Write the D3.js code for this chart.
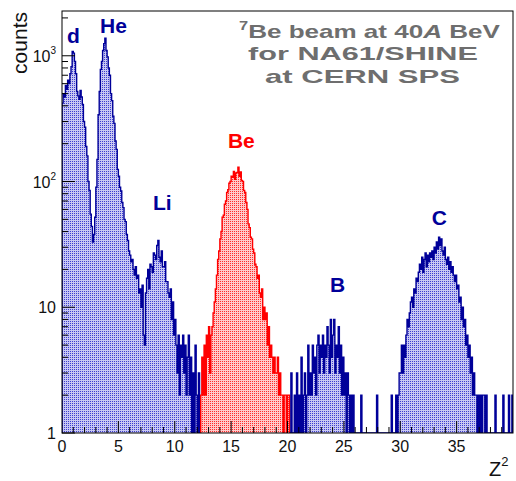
<!DOCTYPE html>
<html>
<head>
<meta charset="utf-8">
<script src="https://cdn.jsdelivr.net/npm/d3@7"></script>
<style>
  body { margin: 0; background: #fff; }
  text { font-family: "Liberation Sans", Arial, sans-serif; }
</style>
</head>
<body>
<script>
// histogram bins: width 0.1 in Z^2, each array starts at its own first bin
var binWidth = 0.1;

// Z^2 0.0 .. 12.2 (d, He, Li)
var startLow = 0.0;
var countsLow = [
  420, 500, 470, 580, 540, 640, 600, 720, 820, 1080,
  1050, 900, 720, 520, 480, 450, 530, 470, 410, 300,
  270, 190, 160, 100, 85, 55, 44, 33, 38, 52,
  90, 150, 340, 520, 780, 900, 1100, 1250, 1380, 1100,
  980, 800, 700, 500, 440, 330, 290, 210, 180, 125,
  110, 90, 84, 68, 62, 50, 48, 38, 34, 28,
  26, 23, 24, 20, 18, 21, 17, 18, 13, 14,
  10, 15, 6, 5, 13, 17, 20, 14, 22, 21,
  19, 27, 26, 24, 31, 34, 25, 23, 28, 21,
  21, 23, 16, 16, 13, 12, 14, 8, 11, 6,
  8, 5, 3, 6, 2, 5, 4, 6, 3, 5,
  2, 4, 6, 2, 4, 1, 3, 1, 5, 2,
  1, 3, 1
];

// Z^2 12.3 .. 20.1 (Be, drawn in red)
var startBe = 12.3;
var countsBe = [
  2, 4, 2, 5, 2, 6, 4,
  7, 3, 6, 7, 9, 11, 14, 18, 24, 28,
  35, 40, 52, 54, 66, 70, 82, 86, 97, 100,
  110, 108, 120, 104, 117, 118, 130, 110, 119, 102,
  100, 85, 82, 68, 60, 46, 43, 36, 35, 29,
  27, 22, 21, 17, 18, 13, 12, 14, 8, 10,
  8, 9, 5, 7, 4, 5, 4, 3, 4, 3,
  3, 4, 2, 3, 2, 2, 1, 2, 2, 1,
  2, 2
];

// Z^2 20.2 .. 39.9 (B, C)
var startHigh = 20.2;
var countsHigh = [
  1, 3, 0, 1, 2, 0, 3, 1,
  2, 1, 4, 1, 2, 3, 1, 2, 5, 2,
  3, 2, 5, 3, 4, 2, 5, 6, 3, 5,
  4, 6, 3, 5, 4, 7, 5, 3, 8, 4,
  6, 8, 3, 5, 4, 7, 3, 5, 2, 4,
  2, 3, 1, 3, 2, 1, 2, 1, 2, 0,
  1, 0, 1, 1, 0, 2, 0, 1, 0, 1,
  0, 0, 1, 0, 1, 0, 0, 1, 0, 2,
  0, 0, 1, 0, 1, 0, 0, 1, 0, 1,
  0, 1, 2, 1, 0, 1, 2, 1, 2, 3,
  3, 5, 3, 5, 4, 6, 8, 7, 9, 11,
  12, 10, 14, 13, 17, 16, 19, 22, 20, 25,
  19, 24, 27, 21, 26, 23, 27, 25, 28, 24,
  30, 27, 33, 29, 36, 31, 35, 28, 26, 30,
  24, 22, 25, 20, 23, 19, 21, 18, 16, 18,
  14, 15, 11, 12, 8, 10, 7, 8, 5, 6,
  4, 5, 3, 4, 2, 3, 2, 2, 1, 2,
  1, 2, 1, 2, 2, 1, 2, 0, 1, 1,
  0, 1, 1, 0, 2, 0, 1, 0, 1, 1,
  0, 2, 0, 1, 0, 1, 2, 1, 0, 2
];

var xTicksMajor = [0, 5, 10, 15, 20, 25, 30, 35];
var yTicksMajor = [1, 10, 100, 1000];
var yTickExp = ["", "", "2", "3"];

var peakNames = ["d", "He", "Li", "Be", "B", "C"];
var peakLabelZ = [0.44, 3.37, 8.07, 14.72, 23.77, 32.8];
var peakLabelCount = [1260, 1520, 59, 185, 13.2, 45];

var titleLines = ["Be beam at 40", "for NA61/SHINE", "at CERN SPS"];

(function(){
	const Config = {
		svg: {Width: 516, Height: 481},
		margin: {top: 11, right: 3, bottom: 48, left: 62},
		blue: "#000099",
		red: "#ff0000",
		gray: "#6e6e6e"
	};
	var Width = Config.svg.Width - Config.margin.left - Config.margin.right;
	var Height = Config.svg.Height - Config.margin.top - Config.margin.bottom;

	var svg = d3.select('body')
			.append('svg')
			.attr('width', Config.svg.Width)
			.attr('height', Config.svg.Height);

	//fill patterns (ROOT-like dotted fill)
	var defs = svg.append('defs');
	function dotPattern(id, bg, dot){
		var p = defs.append('pattern')
			.attr('id', id)
			.attr('width', 2).attr('height', 2)
			.attr('patternUnits', 'userSpaceOnUse');
		p.append('rect').attr('width', 2).attr('height', 2).attr('fill', bg);
		p.append('rect').attr('width', 1).attr('height', 1).attr('fill', dot);
	}
	dotPattern('dotsBlue', '#c8c8f2', '#3c3cd0');
	dotPattern('dotsRed', '#ffcaca', '#ff2a2a');

	defs.append('clipPath').attr('id', 'plotClip')
		.append('rect').attr('width', Width).attr('height', Height);

	var group = svg.append('g')
			.attr('transform', "translate(" + Config.margin.left + "," + Config.margin.top + ")");

	var scaleX = d3.scaleLinear().domain([0, 40]).range([0, Width]);
	var scaleY = d3.scaleLog().domain([1, 2270]).range([Height, 0]);

	function stepPoints(start, counts){
		var pts = [];
		counts.forEach(function(v, i){
			var x0 = start + i * binWidth;
			pts.push({x: x0, v: v});
			pts.push({x: x0 + binWidth, v: v});
		});
		return pts;
	}
	var area = d3.area()
			.x(function(d){ return scaleX(d.x); })
			.y0(Height)
			.y1(function(d){ return scaleY(Math.max(d.v, 1)); });
	var line = d3.line()
			.x(function(d){ return scaleX(d.x); })
			.y(function(d){ return scaleY(Math.max(d.v, 1)); });

	var hist = group.append('g').attr('clip-path', 'url(#plotClip)');
	var segments = [
		{start: startLow, counts: countsLow, fill: 'url(#dotsBlue)', stroke: Config.blue},
		{start: startBe, counts: countsBe, fill: 'url(#dotsRed)', stroke: Config.red},
		{start: startHigh, counts: countsHigh, fill: 'url(#dotsBlue)', stroke: Config.blue}
	];
	segments.forEach(function(s){
		var pts = stepPoints(s.start, s.counts);
		hist.append('path')
			.datum(pts)
			.attr('fill', s.fill)
			.attr('d', area);
		var outline = [{x: s.start, v: 1}].concat(pts, [{x: s.start + s.counts.length * binWidth, v: 1}]);
		hist.append('path')
			.datum(outline)
			.attr('fill', 'none')
			.attr('stroke', s.stroke)
			.attr('stroke-width', 1.4)
			.attr('d', line);
	});

	//frame
	group.append('rect')
		.attr('width', Width).attr('height', Height)
		.attr('fill', 'none').attr('stroke', '#000').attr('stroke-width', 1);

	//x ticks (inside, pointing up)
	var xMinor = d3.range(1, 40);
	group.append('g').selectAll('line')
		.data(xMinor)
		.enter().append('line')
			.attr('x1', function(d){ return scaleX(d); })
			.attr('x2', function(d){ return scaleX(d); })
			.attr('y1', Height)
			.attr('y2', function(d){ return Height - (d % 5 === 0 ? 12 : 6); })
			.attr('stroke', '#000');
	group.append('g').selectAll('text')
		.data(xTicksMajor)
		.enter().append('text')
			.attr('x', function(d){ return scaleX(d); })
			.attr('y', Height + 19)
			.attr('text-anchor', 'middle')
			.attr('font-size', 16)
			.attr('fill', '#111')
			.text(function(d){ return d; });

	//y ticks (log, inside)
	var yMinor = [];
	[1, 10, 100, 1000].forEach(function(dec){
		for (var k = 2; k <= 9; k++) if (dec * k < 2270) yMinor.push(dec * k);
	});
	group.append('g').selectAll('line')
		.data(yMinor)
		.enter().append('line')
			.attr('x1', 0).attr('x2', 6)
			.attr('y1', function(d){ return scaleY(d); })
			.attr('y2', function(d){ return scaleY(d); })
			.attr('stroke', '#000');
	group.append('g').selectAll('line')
		.data(yTicksMajor)
		.enter().append('line')
			.attr('x1', 0).attr('x2', 13)
			.attr('y1', function(d){ return scaleY(d); })
			.attr('y2', function(d){ return scaleY(d); })
			.attr('stroke', '#000');
	var yLab = group.append('g').selectAll('text')
		.data(yTicksMajor)
		.enter().append('text')
			.attr('x', -6)
			.attr('y', function(d){ return scaleY(d) + 6; })
			.attr('text-anchor', 'end')
			.attr('font-size', 16)
			.attr('fill', '#111');
	yLab.append('tspan').text(function(d){ return d === 1 ? "1" : "10"; });
	yLab.append('tspan')
		.attr('font-size', 10)
		.attr('dy', -8)
		.text(function(d, i){ return yTickExp[i]; });

	//axis titles
	svg.append('text')
		.attr('transform', 'translate(27,12) rotate(-90)')
		.attr('text-anchor', 'end')
		.attr('font-size', 21)
		.attr('fill', '#111')
		.text('counts');
	var zt = svg.append('text')
		.attr('x', 489).attr('y', 476)
		.attr('font-size', 20)
		.attr('fill', '#111');
	zt.append('tspan').text('Z');
	zt.append('tspan').attr('font-size', 13).attr('dy', -10).text('2');

	//peak labels
	group.append('g').selectAll('text')
		.data(peakNames)
		.enter().append('text')
			.attr('x', function(d, i){ return scaleX(peakLabelZ[i]); })
			.attr('y', function(d, i){ return scaleY(peakLabelCount[i]); })
			.attr('font-size', 21)
			.attr('font-weight', 'bold')
			.attr('fill', function(d){ return d === "Be" ? Config.red : Config.blue; })
			.text(function(d){ return d; });

	//title box text, stretched wide like the original
	function titleText(cx, y, widthPx){
		var t = svg.append('text')
			.attr('font-size', 19)
			.attr('font-weight', 'bold')
			.attr('fill', Config.gray);
		return {t: t, place: function(){
			var w = t.node().getComputedTextLength();
			t.attr('transform', 'translate(' + (cx - widthPx / 2) + ',' + y + ') scale(' + (widthPx / w) + ',1)');
		}};
	}
	var l1 = titleText(369.5, 38, 261);
	l1.t.append('tspan').attr('font-size', 12).attr('dy', -8).text('7');
	l1.t.append('tspan').attr('dy', 8).text(titleLines[0]);
	l1.t.append('tspan').attr('font-style', 'italic').text('A');
	l1.t.append('tspan').text(' BeV');
	l1.place();
	var l2 = titleText(363, 60, 230);
	l2.t.text(titleLines[1]);
	l2.place();
	var l3 = titleText(362.5, 83, 195);
	l3.t.text(titleLines[2]);
	l3.place();
})();
</script>
</body>
</html>
